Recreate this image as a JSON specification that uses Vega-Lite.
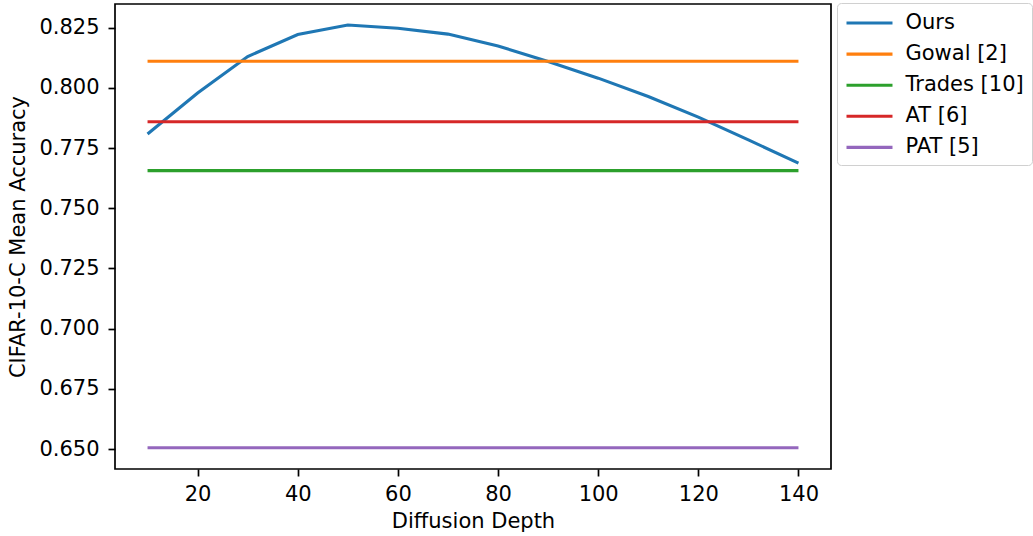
{
  "$schema": "https://vega.github.io/schema/vega-lite/v6.json",
  "width": 716,
  "height": 465,
  "autosize": {"type": "none"},
  "padding": {"left": 115, "top": 4, "right": 202, "bottom": 67},
  "background": "white",
  "config": {
    "font": "DejaVu Sans",
    "view": {"stroke": "black", "strokeWidth": 1.7},
    "axis": {
      "grid": false,
      "domain": false,
      "tickColor": "black",
      "tickWidth": 1.7,
      "tickSize": 7,
      "labelFont": "DejaVu Sans",
      "labelFontSize": 21,
      "labelColor": "black",
      "titleFont": "DejaVu Sans",
      "titleFontSize": 21,
      "titleFontWeight": "normal",
      "titleColor": "black"
    }
  },
  "data": {
    "values": [
      {"depth": 10, "acc": 0.7808, "method": "Ours"},
      {"depth": 20, "acc": 0.7978, "method": "Ours"},
      {"depth": 30, "acc": 0.8130, "method": "Ours"},
      {"depth": 40, "acc": 0.8221, "method": "Ours"},
      {"depth": 50, "acc": 0.8261, "method": "Ours"},
      {"depth": 60, "acc": 0.8247, "method": "Ours"},
      {"depth": 70, "acc": 0.8223, "method": "Ours"},
      {"depth": 80, "acc": 0.8174, "method": "Ours"},
      {"depth": 90, "acc": 0.8109, "method": "Ours"},
      {"depth": 100, "acc": 0.8040, "method": "Ours"},
      {"depth": 110, "acc": 0.7964, "method": "Ours"},
      {"depth": 120, "acc": 0.7878, "method": "Ours"},
      {"depth": 130, "acc": 0.7784, "method": "Ours"},
      {"depth": 140, "acc": 0.7687, "method": "Ours"},
      {"depth": 10, "acc": 0.8110, "method": "Gowal [2]"},
      {"depth": 140, "acc": 0.8110, "method": "Gowal [2]"},
      {"depth": 10, "acc": 0.7656, "method": "Trades [10]"},
      {"depth": 140, "acc": 0.7656, "method": "Trades [10]"},
      {"depth": 10, "acc": 0.7859, "method": "AT [6]"},
      {"depth": 140, "acc": 0.7859, "method": "AT [6]"},
      {"depth": 10, "acc": 0.6505, "method": "PAT [5]"},
      {"depth": 140, "acc": 0.6505, "method": "PAT [5]"}
    ]
  },
  "mark": {"type": "line", "strokeWidth": 3.1},
  "encoding": {
    "x": {
      "field": "depth",
      "type": "quantitative",
      "title": "Diffusion Depth",
      "scale": {"domain": [3.5, 146.5], "nice": false, "zero": false},
      "axis": {"values": [20, 40, 60, 80, 100, 120, 140], "labelPadding": 7, "titlePadding": 6}
    },
    "y": {
      "field": "acc",
      "type": "quantitative",
      "title": "CIFAR-10-C Mean Accuracy",
      "scale": {"domain": [0.6417, 0.8348], "nice": false, "zero": false},
      "axis": {"values": [0.65, 0.675, 0.7, 0.725, 0.75, 0.775, 0.8, 0.825], "format": ".3f", "labelPadding": 9, "titlePadding": 10}
    },
    "color": {
      "field": "method",
      "type": "nominal",
      "sort": ["Ours", "Gowal [2]", "Trades [10]", "AT [6]", "PAT [5]"],
      "scale": {
        "domain": ["Ours", "Gowal [2]", "Trades [10]", "AT [6]", "PAT [5]"],
        "range": ["#1f77b4", "#ff7f0e", "#2ca02c", "#d62728", "#9467bd"]
      },
      "legend": {
        "title": null,
        "orient": "none",
        "legendX": 722,
        "legendY": -1,
        "symbolType": "M-1,0H3.38",
        "symbolSize": 441,
        "symbolStrokeWidth": 3.1,
        "labelFontSize": 21,
        "labelFont": "DejaVu Sans",
        "labelColor": "black",
        "labelOffset": 36,
        "rowPadding": 8.1,
        "padding": 7.5,
        "strokeColor": "#d0d0d0",
        "fillColor": "white",
        "cornerRadius": 4
      }
    }
  }
}
